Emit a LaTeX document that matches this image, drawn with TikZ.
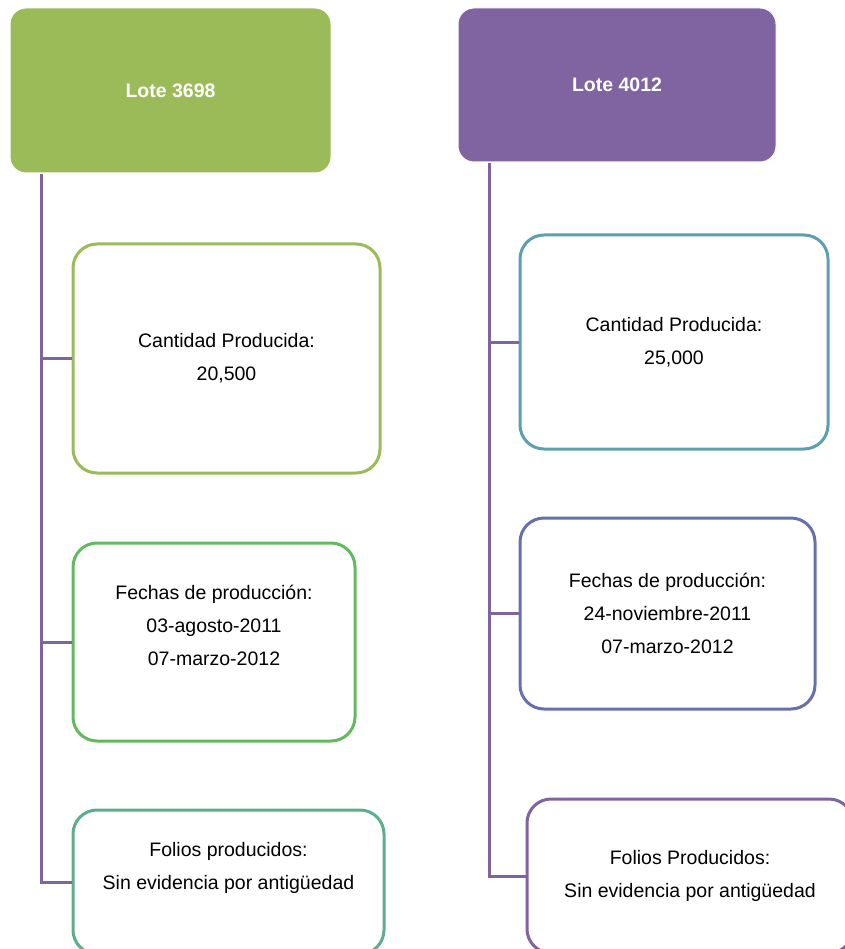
\documentclass[tikz,border=0pt]{standalone}
\usepackage{fontspec}
\setmainfont{Liberation Sans}
\usetikzlibrary{positioning}
\definecolor{lotegreen}{HTML}{9BBB59}
\definecolor{lotepurple}{HTML}{8064A2}
\definecolor{boxgreen}{HTML}{63B95E}
\definecolor{boxteal}{HTML}{5BAF8C}
\definecolor{boxcyan}{HTML}{5C9FAE}
\definecolor{boxblue}{HTML}{6670AF}

\begin{document}
\begin{tikzpicture}[x=1pt,y=-1pt,
    head/.style={rounded corners=16pt,draw=white,line width=1pt,text=white,
      font=\fontsize{19.5}{33}\selectfont\bfseries,align=center},
    item/.style={rounded corners=24pt,draw=#1,line width=3pt,fill=white,
      font=\fontsize{19.5}{33}\selectfont,align=center},
    trunk/.style={lotepurple,line width=3pt}]
    \useasboundingbox (0,0) rectangle (844,949);
    % headers
    \node[head,fill=lotegreen,minimum width=321pt,minimum height=165pt](h1) at (170.5,90.5){Lote 3698};
    \node[head,fill=lotepurple,minimum width=318pt,minimum height=154pt](h2) at (617,85){Lote 4012};
    % lote 3698
    \node[item=lotegreen,minimum width=307pt,minimum height=229pt](l1) at (226.5,358.5){Cantidad Producida:\\20,500};
    \node[item=boxgreen,minimum width=282pt,minimum height=198pt](l2) at (214,642){Fechas de producción:\\03-agosto-2011\\07-marzo-2012\\\mbox{}};
    \node[item=boxteal,minimum width=311pt,minimum height=144pt](l3) at (228.5,882){Folios producidos:\\Sin evidencia por antigüedad\\\mbox{}};
    % lote 4012
    \node[item=boxcyan,minimum width=308pt,minimum height=214pt](r1) at (674,342){Cantidad Producida:\\25,000};
    \node[item=boxblue,minimum width=295pt,minimum height=191pt](r2) at (667.5,613.5){Fechas de producción:\\24-noviembre-2011\\07-marzo-2012};
    \node[item=lotepurple,minimum width=326pt,minimum height=154pt](r3) at (690,876){Folios Producidos:\\Sin evidencia por antigüedad};
    % connectors
    \coordinate (t1) at (41,174);
    \coordinate (t2) at (489,163);
    \draw[trunk](t1)|-(l3.west);
    \draw[trunk](t1|-l1.west)--(l1.west);
    \draw[trunk](t1|-l2.west)--(l2.west);
    \draw[trunk](t2)|-(r3.west);
    \draw[trunk](t2|-r1.west)--(r1.west);
    \draw[trunk](t2|-r2.west)--(r2.west);
\end{tikzpicture}
\end{document}
